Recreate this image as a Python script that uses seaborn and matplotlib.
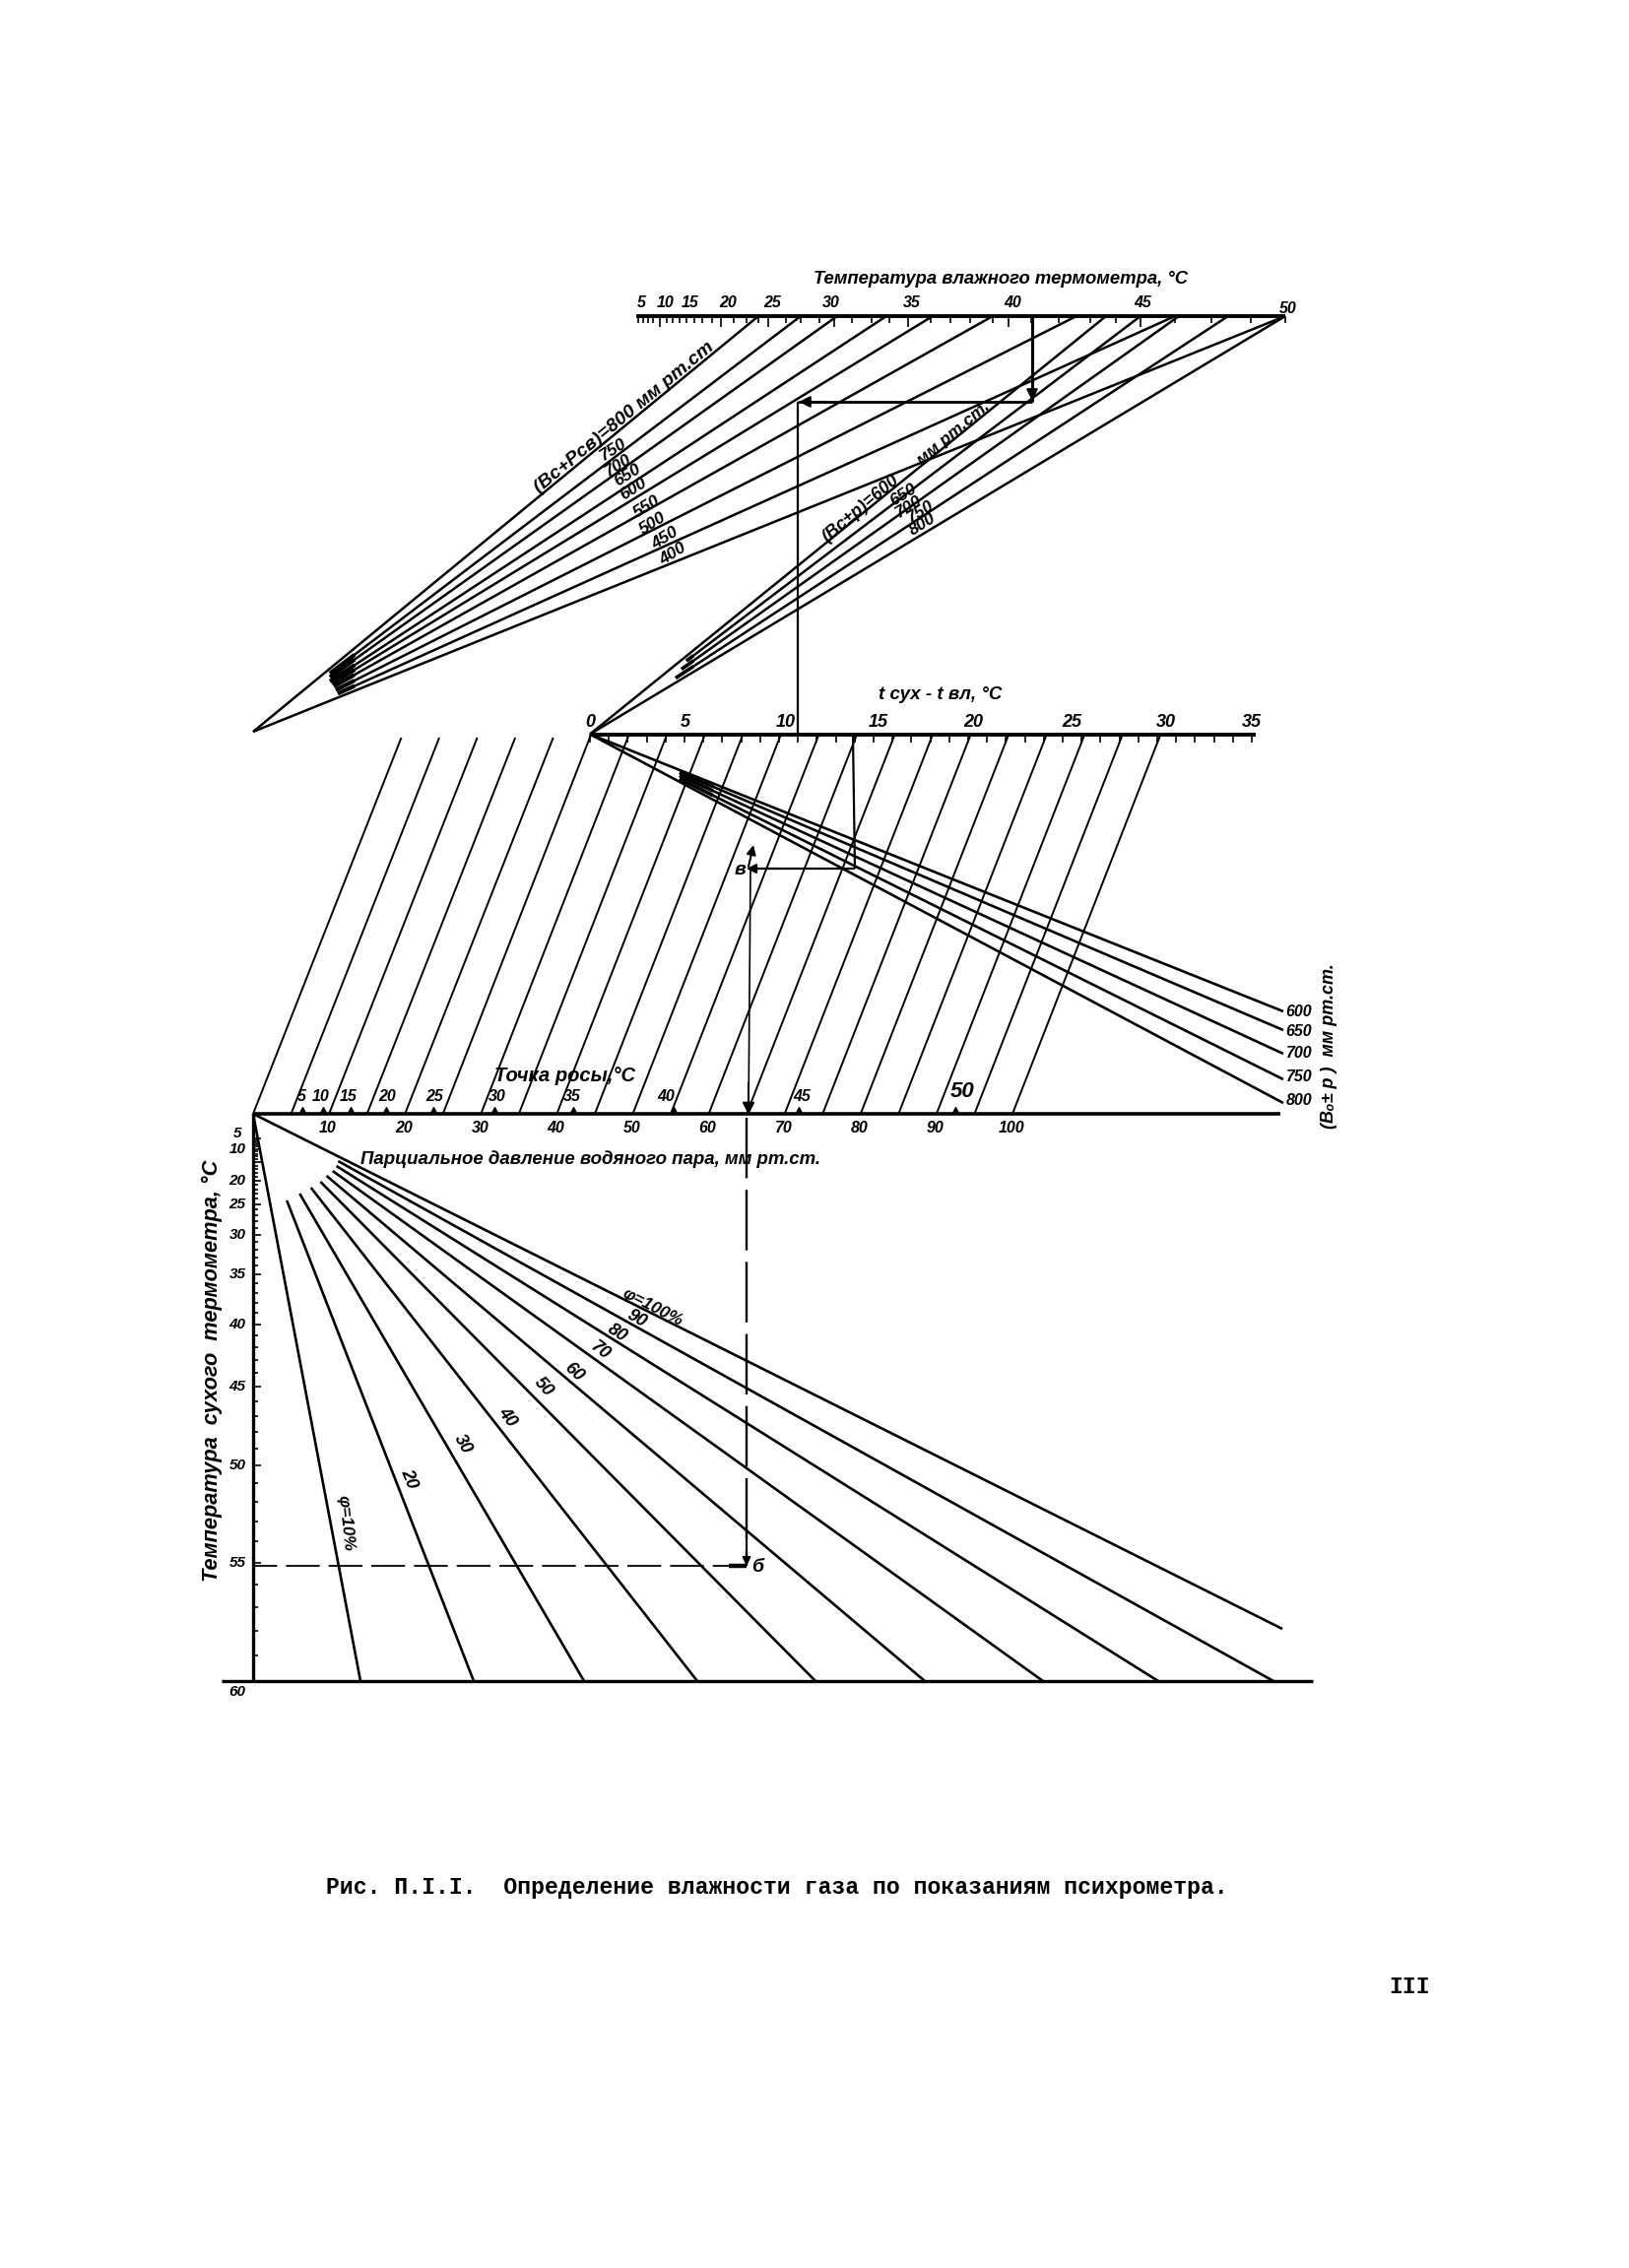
import numpy as np
import pandas as pd
import seaborn as sns
import matplotlib
matplotlib.use("Agg")
import matplotlib.pyplot as plt

sns.set_theme(style="white")
plt.rcParams['font.family'] = ['Liberation Sans', 'DejaVu Sans']

# ---------- values ----------
# Saturation vapour pressure scale of the dry-bulb / dew-point axes
temp_c = list(range(5, 61))
p_sat = [6.54, 7.01, 7.51, 8.05, 8.61, 9.21, 9.84, 10.52, 11.23, 11.99, 12.79, 13.63, 14.53, 15.48,
         16.48, 17.54, 18.65, 19.83, 21.07, 22.38, 23.76, 25.21, 26.74, 28.35, 30.04, 31.82, 33.70,
         35.66, 37.73, 39.90, 42.18, 44.56, 47.07, 49.69, 52.44, 55.32, 58.34, 61.50, 64.80, 68.26,
         71.88, 75.65, 79.60, 83.71, 88.02, 92.51, 97.20, 102.09, 107.20, 112.51, 118.04, 123.80,
         129.82, 136.08, 142.60, 149.38]

# Top fan: barometric sum -> reading on wet-bulb scale where the ray ends
fan1_pressure = [800, 750, 700, 650, 600, 550, 500, 450, 400]
fan1_end_scale = [770, 813, 850, 900, 947, 1008, 1093, 1193, 1305]
fan1_start_scale = [257, 335, 335, 335, 337, 339, 341, 343, 257]

fan2_pressure = [600, 650, 700, 750, 800]
fan2_end_scale = [1123, 1158, 1197, 1247, 1305]
fan2_start_scale = [599, 697, 692, 686, 599]

fan3_pressure = [600, 650, 700, 750, 800]
fan3_end_level = [1027, 1046, 1070, 1096, 1120]
fan3_start_scale = [599, 690, 690, 690, 599]

# Wet-bulb scale
wet_ticks = [648, 653, 658, 663, 670, 677, 683, 690, 697, 705, 713, 723, 732, 745, 758, 770, 780, 798,
             813, 832, 847, 865, 885, 903, 922, 945, 965, 985, 1008, 1024, 1047, 1075, 1107, 1133,
             1158, 1193, 1230, 1270, 1305]
wet_labels = ['5', '10', '15', '20', '25', '30', '35', '40', '45', '50']
wet_label_pos = [651, 676, 701, 739, 784, 844, 926, 1028, 1160, 1308]

# t_dry - t_wet scale
dt_values = list(range(0, 36))
dt_labels = [0, 5, 10, 15, 20, 25, 30, 35]
dt_label_pos = [599, 696, 798, 892, 988, 1088, 1184, 1271]

# Partial pressure scale
p_lines = list(range(0, 105, 5))
p_labels = [10, 20, 30, 40, 50, 60, 70, 80, 90, 100]
dew_labels = [5, 10, 15, 20, 25, 30, 35, 40, 45, 50]
dew_label_pos = [306, 326, 354, 393, 441, 505, 581, 676, 814, 977]

# Humidity fan
phi = [100, 90, 80, 70, 60, 50, 40, 30, 20, 10]
phi_foot = [1411, 1293, 1176, 1059, 939, 828, 708, 593, 481, 366]
phi_start_y = [1131, 1179, 1184, 1189, 1194, 1200, 1206, 1212, 1219, 1131]
dry_labels = [5, 10, 20, 25, 30, 35, 40, 45, 50, 55, 60]

# ---------- page geometry ----------
W, H = 1654, 2303
AP1 = (257, 743)
O2 = (599, 745.5)
AP3 = (257, 1131)
Y_TOP = 321
DT_K = 19.2
P_K = 7.71
T_K = 3.86
Y_BOT = 1707
X_END3 = 1303
DEW_OFFSET = 150.5


def segs(items):
    rows = []
    for i, (x0, y0, x1, y1) in enumerate(items):
        rows += [dict(x=x0, y=y0, line=i), dict(x=x1, y=y1, line=i)]
    return pd.DataFrame(rows)


def draw(items, lw, **kw):
    sns.lineplot(data=segs(items), x='x', y='y', units='line', estimator=None, sort=False,
                 color='black', linewidth=lw, legend=False, ax=ax, solid_capstyle='butt', **kw)


def ray(apex, end, start_x):
    sl = (end[1] - apex[1]) / (end[0] - apex[0])
    return (start_x, apex[1] + sl * (start_x - apex[0]), end[0], end[1])


def stub(apex, end, start_x, stop_x):
    sl = (end[1] - apex[1]) / (end[0] - apex[0])
    return (start_x, apex[1] + sl * (start_x - apex[0]), stop_x, apex[1] + sl * (stop_x - apex[0]))


def label(x, y, s, size=11, rot=0, **kw):
    ax.text(x, y, s, fontsize=size, rotation=rot, ha='center', va='center', color='black',
            fontstyle=kw.pop('style', 'italic'), fontweight=kw.pop('weight', 'bold'),
            rotation_mode='anchor', **kw)


def arrow(x0, y0, x1, y1, scale=17):
    ax.annotate('', xy=(x1, y1), xytext=(x0, y0),
                arrowprops=dict(arrowstyle='-|>', color='black', lw=1.5, mutation_scale=scale,
                                shrinkA=0, shrinkB=0))


fig = plt.figure(figsize=(W / 100, H / 100), dpi=100, facecolor='white')
ax = fig.add_axes([0, 0, 1, 1])

# ---------- top fans ----------
draw([ray(AP1, (e, Y_TOP), s) for e, s in zip(fan1_end_scale, fan1_start_scale)], 1.8)
draw([stub(AP1, (e, Y_TOP), s, 360) for e, s in zip(fan1_end_scale[1:-1], fan1_start_scale[1:-1])], 3.0)
draw([ray(O2, (e, Y_TOP), s) for e, s in zip(fan2_end_scale, fan2_start_scale)], 1.8)
draw([stub(O2, (e, Y_TOP), s, 704) for e, s in zip(fan2_end_scale[1:-1], fan2_start_scale[1:-1])], 2.6)
draw([(646, Y_TOP, 1305, Y_TOP)], 2.8)
draw([(x, Y_TOP, x, Y_TOP + (11 if x in (670, 732, 780, 847, 922, 1024, 1158) else 7)) for x in wet_ticks], 1.2)
for s, x in zip(wet_labels, wet_label_pos):
    label(x, 313 if s == '50' else 307, s, 11.5)
label(1016, 283, 'Температура влажного термометра, °C', 13.3)

# ---------- middle section ----------
draw([(O2[0], O2[1], 1275, O2[1])], 2.8)
draw([(O2[0] + DT_K * t, O2[1], O2[0] + DT_K * t, O2[1] + 8) for t in dt_values], 1.2)
for s, x in zip(dt_labels, dt_label_pos):
    label(x, 733, str(s), 13)
label(955, 706, 't сух - t вл, °C', 13.5)

dew_items = []
for p in p_lines:
    xb = AP3[0] + P_K * p
    xt = xb + DEW_OFFSET
    dew_items.append((xb, AP3[1], xt, 749 if p < 25 else O2[1]))
draw(dew_items, 1.4)

draw([ray(O2, (X_END3, yy), s) for yy, s in zip(fan3_end_level, fan3_start_scale)], 1.9)
draw([stub(O2, (X_END3, yy), s, 724) for yy, s in zip(fan3_end_level[1:-1], fan3_start_scale[1:-1])], 2.6)
for s, yy in zip(fan3_pressure, [1027, 1048, 1069, 1094, 1117]):
    label(1319, yy, str(s), 11.5)
label(1350, 1062, '(Bₒ± p )  мм рт.ст.', 13, rot=90)

# p axis
draw([(AP3[0], AP3[1], 1300, AP3[1])], 2.6)
for lab in dew_labels:
    x = AP3[0] + P_K * p_sat[temp_c.index(lab)]
    ax.plot([x], [AP3[1] - 4], marker='^', ms=4, color='black', ls='none')
for s, x in zip(dew_labels, dew_label_pos):
    label(x, 1113 if s != 50 else 1108, str(s), 16 if s == 50 else 11.5)
for v in p_labels:
    label(AP3[0] + P_K * v - 1, 1145, str(v), 11.5)
label(574, 1092, 'Точка росы,°C', 14.5)
label(600, 1177, 'Парциальное давление водяного пара, мм рт.ст.', 13.4)

# ---------- humidity fan ----------
draw([ray(AP3, (f, Y_BOT), AP3[0] + (sy - AP3[1]) * (f - AP3[0]) / (Y_BOT - AP3[1]))
      if sy != AP3[1] else (AP3[0], AP3[1], f, Y_BOT)
      for f, sy in zip(phi_foot[1:], phi_start_y[1:])], 1.9)
draw([(AP3[0], AP3[1], 1302, 1654)], 1.9)
draw([(AP3[0], AP3[1], AP3[0], Y_BOT), (225, Y_BOT, 1333, Y_BOT)], 2.4)
draw([(AP3[0], AP3[1] + T_K * p, AP3[0] + (8 if t % 5 == 0 else 5), AP3[1] + T_K * p)
      for t, p in zip(temp_c, p_sat)], 1.2)
for t in dry_labels:
    y = AP3[1] + T_K * p_sat[temp_c.index(t)]
    label(241, (1151 if t == 5 else (1718 if t == 60 else y)), str(t), 11)
label(215, 1392, 'Температура  сухого  термометра, °C', 15.7, rot=90)

label(663, 1327, 'φ=100%', 12.5, rot=-27)
for s, x, y, r in [(90, 646, 1339, -30), (80, 627, 1354, -33), (70, 609, 1372, -38), (60, 583, 1393, -42),
                   (50, 552, 1408, -48), (40, 515, 1439, -52), (30, 470, 1466, -60), (20, 415, 1502, -68)]:
    label(x, y, str(s), 13, rot=r)
label(351, 1547, 'φ=10%', 12.5, rot=-84)

# ---------- fan labels ----------
label(634, 424, '(Bс+Pсв)=800 мм рт.ст', 14, rot=39.5)
for s, x, y in zip(fan1_pressure[1:], [623, 628, 637, 643, 657, 663, 675, 683], [457, 473, 483, 497, 515, 532, 547, 563]):
    label(x, y, str(s), 12.5, rot=32)
label(874, 517, '(Bс±p)=600', 13, rot=40)
label(968, 440, 'мм рт.ст.', 12.5, rot=40)
for s, x, y in zip(fan2_pressure[1:], [917, 923, 935, 937], [503, 515, 520, 533]):
    label(x, y, str(s), 12.5, rot=32)

# ---------- worked example ----------
draw([(1048, Y_TOP, 1048, 408)], 2.2)
draw([(1048, 408, 810, 408)], 2.0)
draw([(810, 408, 810, O2[1])], 1.6)
arrow(1048, 380, 1048, 407)
arrow(840, 408, 811, 408)
draw([(866, O2[1], 868, 882), (868, 882, 762, 882)], 1.6)
arrow(790, 882, 758, 882, 14)
arrow(760, 880, 765, 858, 14)
draw([(762, 882, 760, 1131)], 1.2)
arrow(760, 1100, 760, 1132, 18)
draw([(758, 1135, 758, 1590)], 1.7, linestyle=(0, (26, 5)))
draw([(758, 1590, 257, 1590)], 1.3, linestyle=(0, (19, 5)))
arrow(758, 1560, 758, 1590, 12)
draw([(740, 1590, 758, 1590)], 3.2)
label(751, 883, 'в', 14)
label(769, 1592, 'б', 14)

# ---------- page text ----------
ax.text(331, 1917, 'Рис. П.I.I.  Определение влажности газа по показаниям психрометра.', family='Liberation Mono',
        fontsize=16.65, ha='left', va='center', color='black', fontweight='bold')
ax.text(1431, 2017, 'III', family='Liberation Mono', fontsize=16.65, ha='center', va='center', color='black',
        fontweight='bold')

ax.set_xlim(0, W)
ax.set_ylim(H, 0)
ax.axis('off')
fig.savefig('out.png', dpi=100, facecolor='white')
